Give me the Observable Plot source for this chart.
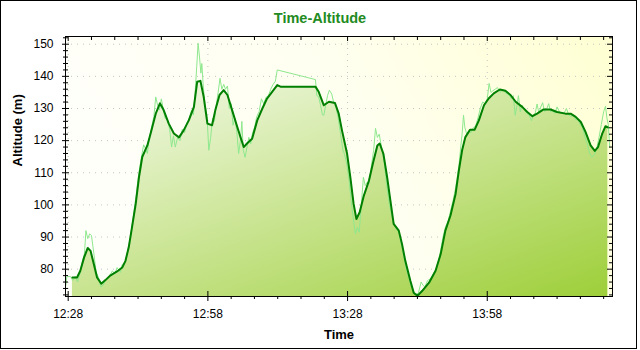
<!DOCTYPE html>
<html>
<head>
<meta charset="utf-8">
<script src="https://cdn.jsdelivr.net/npm/d3@7"></script>
<script src="https://cdn.jsdelivr.net/npm/@observablehq/plot@0.6"></script>
<style>
  html, body { margin: 0; padding: 0; background: #fff; }
  #wrap { position: relative; width: 640px; height: 350px; overflow: hidden; font-family: "Liberation Sans", Arial, sans-serif; }
  #title { height: 30px; box-sizing: border-box; padding-top: 10px; line-height: 16px; text-align: center; font-size: 14.5px; font-weight: bold; color: #228b22; }
  #border { position: absolute; left: 0; top: 0; width: 635px; height: 347px; border: 1px solid #000; pointer-events: none; }
</style>
</head>
<body>
<div id="wrap">
  <div id="title">Time-Altitude</div>
  <div id="chart"></div>
  <div id="border"></div>
</div>
<script>
// ---- data (minutes after 12:28, altitude in m) ----
const smoothMinutes = [0.9,1.9,2.6,3.4,4.2,4.8,5.5,6.2,7.1,8.0,9.1,10.5,11.6,12.3,13.0,13.7,14.5,15.2,15.9,17.0,17.7,18.8,19.7,20.5,21.6,22.7,23.8,24.8,25.9,27.0,27.7,28.4,29.1,29.9,30.9,31.6,32.5,33.4,34.2,35.2,36.3,37.0,37.7,38.4,39.5,40.6,41.7,42.7,43.8,44.9,45.6,53.1,53.8,54.9,56.0,57.3,58.1,58.8,59.9,60.6,61.3,61.9,62.6,63.5,64.6,65.5,66.4,66.9,67.7,68.5,69.2,69.9,71.0,71.7,72.4,73.5,74.2,75.0,76.0,77.5,78.9,80.0,81.0,82.1,83.2,83.9,84.6,85.3,86.3,87.3,88.2,89.3,90.3,91.4,92.7,93.9,95.0,96.1,97.5,98.6,99.7,100.7,102.1,103.6,105.0,106.8,107.9,109.0,110.1,111.1,112.2,113.1,113.8,114.7,115.4,115.9];
const smoothAltitude = [77.4,77.4,79.5,83.6,86.6,85.7,81.6,77.4,75.5,76.6,78.1,79.3,80.5,82.6,86.8,93.0,100.3,108.6,114.9,118.5,122.2,128.4,131.6,129.5,125.3,122.2,121.0,123.2,126.3,130.5,138.3,138.6,133.6,125.3,124.8,129.5,134.2,135.7,134.2,129.5,124.3,121.1,118.0,119.1,120.6,126.3,130.0,133.1,135.2,137.3,136.8,136.8,135.2,131.0,132.1,131.7,128.4,123.2,115.9,108.6,100.3,95.6,97.7,102.9,107.6,113.3,118.5,119.1,115.9,108.6,101.3,94.1,92.0,87.8,82.6,76.3,72.7,71.7,73.2,75.8,79.5,84.7,92.0,96.7,103.4,110.7,117.0,121.1,123.4,123.4,126.3,131.0,133.1,134.7,135.9,135.5,134.2,132.1,130.5,128.9,127.6,128.4,129.7,129.7,128.9,128.4,128.4,127.4,125.8,122.7,118.5,116.8,118.0,122.2,124.5,124.1];

const rawMinutes = [-0.5,-0.3,0.5,1.0,1.5,2.0,2.5,3.0,3.5,3.8,4.2,4.6,5.0,5.5,6.0,6.5,7.0,7.5,8.0,8.7,9.5,10.0,10.5,11.2,11.6,12.2,12.8,13.4,14.0,14.6,15.0,15.4,15.8,16.2,16.6,17.0,17.4,17.9,18.4,18.8,19.2,19.6,20.0,20.4,20.8,21.3,21.8,22.2,22.6,23.0,23.5,24.0,24.5,25.0,25.5,26.0,26.5,26.9,27.3,27.6,27.9,28.2,28.5,28.7,29.0,29.4,29.8,30.2,30.6,31.0,31.4,31.8,32.2,32.6,33.0,33.4,33.8,34.2,34.6,35.0,35.4,35.8,36.2,36.6,37.0,37.3,37.6,38.0,38.4,38.8,39.2,39.6,40.0,40.5,41.0,41.5,42.0,42.5,43.0,43.5,44.0,44.5,44.9,53.1,53.4,53.8,54.2,54.6,54.9,55.3,55.7,56.1,56.6,57.0,57.5,58.0,58.5,59.0,59.3,59.8,60.3,60.8,61.3,61.7,62.1,62.5,62.9,63.4,63.8,64.2,64.6,65.0,65.6,66.0,66.4,66.8,67.3,67.9,68.4,69.0,69.5,70.0,70.5,71.0,71.5,72.0,72.6,73.1,73.6,74.1,74.6,75.2,75.8,76.2,76.6,77.2,77.8,78.4,79.0,79.5,80.0,80.5,81.0,81.6,82.1,82.6,83.1,83.5,83.9,84.3,84.6,84.9,85.2,85.6,86.0,86.5,87.0,87.5,88.0,88.5,89.0,89.5,90.0,90.4,90.8,91.2,91.7,92.2,92.8,93.3,93.8,94.3,94.8,95.2,95.6,96.0,96.4,96.7,97.1,97.5,98.0,98.5,99.0,99.5,99.9,100.3,100.7,101.1,101.5,101.9,102.3,102.8,103.2,103.6,104.0,104.5,105.0,105.5,106.0,106.5,107.0,107.5,108.0,108.5,109.0,109.5,110.0,110.5,111.0,111.5,112.0,112.5,113.0,113.5,114.0,114.5,115.0,115.4,115.7,116.0,116.3];
const rawAltitude = [75.0,77.7,77.7,76.5,77.8,76.0,78.5,82.0,85.0,92.0,89.5,91.0,90.5,85.0,79.0,77.5,74.5,75.0,76.5,77.5,79.5,78.5,80.5,79.0,81.5,82.0,85.5,90.0,96.5,103.0,108.0,112.0,115.5,118.7,117.5,116.0,120.5,124.0,127.5,133.6,131.0,129.5,133.0,130.0,127.0,126.5,123.5,118.0,121.5,118.0,121.0,120.0,123.5,122.5,125.5,127.0,129.5,128.0,136.0,143.0,150.3,146.0,141.0,144.0,137.0,131.0,128.0,117.0,121.0,127.0,126.0,131.0,135.0,139.4,136.0,137.5,136.0,137.0,130.0,131.5,124.8,127.0,123.0,116.0,120.0,126.0,117.0,114.8,118.0,121.0,119.0,122.5,124.0,127.5,129.0,133.0,131.5,133.5,134.0,136.0,137.5,138.5,142.0,139.0,134.0,133.6,131.0,128.0,127.9,131.0,134.0,135.7,134.5,132.0,130.5,127.0,122.0,117.0,116.0,113.0,108.0,101.0,95.0,91.0,93.0,91.5,99.0,108.6,106.0,107.0,106.5,111.0,117.0,123.8,121.0,122.0,118.0,113.0,106.0,100.0,96.7,94.0,92.5,91.5,88.0,84.5,80.0,77.5,75.0,73.0,72.2,72.5,76.0,75.0,74.5,76.5,77.0,78.5,80.0,82.0,86.0,90.0,93.0,95.0,98.0,101.0,104.5,108.0,112.0,118.0,122.0,127.9,124.0,122.0,123.0,122.5,124.0,124.5,127.0,130.0,132.0,131.5,133.0,137.8,135.0,135.5,136.0,136.5,135.0,136.0,135.0,134.5,134.0,133.0,134.0,127.9,131.0,134.0,129.0,131.0,129.5,128.5,128.0,126.2,128.0,128.5,131.4,128.5,130.5,131.8,129.0,130.0,131.5,129.0,129.5,128.5,130.5,129.0,128.5,128.5,130.0,128.0,127.5,128.0,126.5,126.5,125.0,124.0,121.0,119.0,116.0,114.9,115.5,117.5,121.0,125.0,129.0,130.7,127.0,125.0,118.0];

const xDomain = [-0.58, 116.9];
const yDomain = [71.5, 152.4];
const xMajor = [0, 30, 60, 90];
const xTickLabels = ["12:28", "12:58", "13:28", "13:58"];
const yMajor = [80, 90, 100, 110, 120, 130, 140, 150];

const smooth = smoothMinutes.map((m, i) => ({m, alt: smoothAltitude[i]}));
const raw = rawMinutes.map((m, i) => ({m, alt: rawAltitude[i]}));

const xMinor = d3.range(0, 116, 5).filter(v => !xMajor.includes(v));
const yMinor = d3.range(72, 153, 2).filter(v => !yMajor.includes(v));

// ---- layout ----
const W = 640, H = 320, mT = 6, mB = 54, mL = 65, mR = 28;
const fW = W - mL - mR, fH = H - mT - mB;

const chart = Plot.plot({
  width: W, height: H,
  marginTop: mT, marginBottom: mB, marginLeft: mL, marginRight: mR,
  style: {fontFamily: "'Liberation Sans', Arial, sans-serif", fontSize: "12px", background: "transparent", color: "#000", overflow: "visible"},
  x: {type: "linear", domain: xDomain},
  y: {type: "linear", domain: yDomain},
  marks: [
    Plot.frame({fill: "url(#bgGrad)", stroke: null}),
    Plot.gridX(xMajor, {stroke: "#c4c4c4", strokeOpacity: 1, strokeDasharray: "1,5"}),
    Plot.gridY(yMajor, {stroke: "#c4c4c4", strokeOpacity: 1, strokeDasharray: "1,5"}),
    Plot.areaY(smooth, {x: "m", y: "alt", fill: "url(#fillGrad)", clip: true}),
    Plot.line(raw, {x: "m", y: "alt", stroke: "#8ee88e", strokeWidth: 1}),
    Plot.line(smooth, {x: "m", y: "alt", stroke: "#007f00", strokeWidth: 2}),
    Plot.frame({stroke: "#000"}),
    // bottom ticks
    Plot.tickX(xMajor, {x: d => d, insetTop: fH - 10, dy: 5, stroke: "#000"}),
    Plot.tickX(xMinor, {x: d => d, insetTop: fH - 3, dy: 3, stroke: "#000"}),
    // top ticks (inside)
    Plot.tickX(xMajor, {x: d => d, insetBottom: fH - 5, stroke: "#000"}),
    Plot.tickX(xMinor, {x: d => d, insetBottom: fH - 4, stroke: "#000"}),
    // left ticks
    Plot.tickY(yMajor, {y: d => d, insetRight: fW - 7, dx: -3, stroke: "#000"}),
    Plot.tickY(yMinor, {y: d => d, insetRight: fW - 5, dx: -2, stroke: "#000"}),
    // right ticks (inside)
    Plot.tickY(yMajor, {y: d => d, insetLeft: fW - 5, stroke: "#000"}),
    Plot.tickY(yMinor, {y: d => d, insetLeft: fW - 3, stroke: "#000"}),
    Plot.axisX({ticks: xMajor, tickSize: 0, tickPadding: 13, tickFormat: d => xTickLabels[xMajor.indexOf(d)], label: null, fill: "#000"}),
    Plot.axisY({ticks: yMajor, tickSize: 0, tickPadding: 12, tickFormat: d => String(d), label: null, fill: "#000"}),
    Plot.text(["Time"], {text: d => d, frameAnchor: "bottom", lineAnchor: "bottom", dy: 42, fontWeight: "bold", fontSize: 13, fill: "#000"}),
    Plot.text(["Altitude (m)"], {text: d => d, frameAnchor: "left", lineAnchor: "bottom", rotate: -90, dx: -44, fontWeight: "bold", fontSize: 13, fill: "#000"})
  ]
});

// gradients
const svgNS = "http://www.w3.org/2000/svg";
const defs = document.createElementNS(svgNS, "defs");
defs.innerHTML = `
  <linearGradient id="bgGrad" gradientUnits="userSpaceOnUse" x1="${mL + 100}" y1="${H - mB}" x2="${W - mR}" y2="${mT}">
    <stop offset="0" stop-color="#fffffa"/>
    <stop offset="0.5" stop-color="#fffff0"/>
    <stop offset="1" stop-color="#ffffd2"/>
  </linearGradient>
  <linearGradient id="fillGrad" gradientUnits="userSpaceOnUse" x1="${mL}" y1="${mT + 10}" x2="${mL + 150}" y2="${mT + 420}">
    <stop offset="0" stop-color="#ffffff"/>
    <stop offset="1" stop-color="#9acd32"/>
  </linearGradient>`;
chart.insertBefore(defs, chart.firstChild);
document.getElementById("chart").appendChild(chart);
</script>
</body>
</html>
